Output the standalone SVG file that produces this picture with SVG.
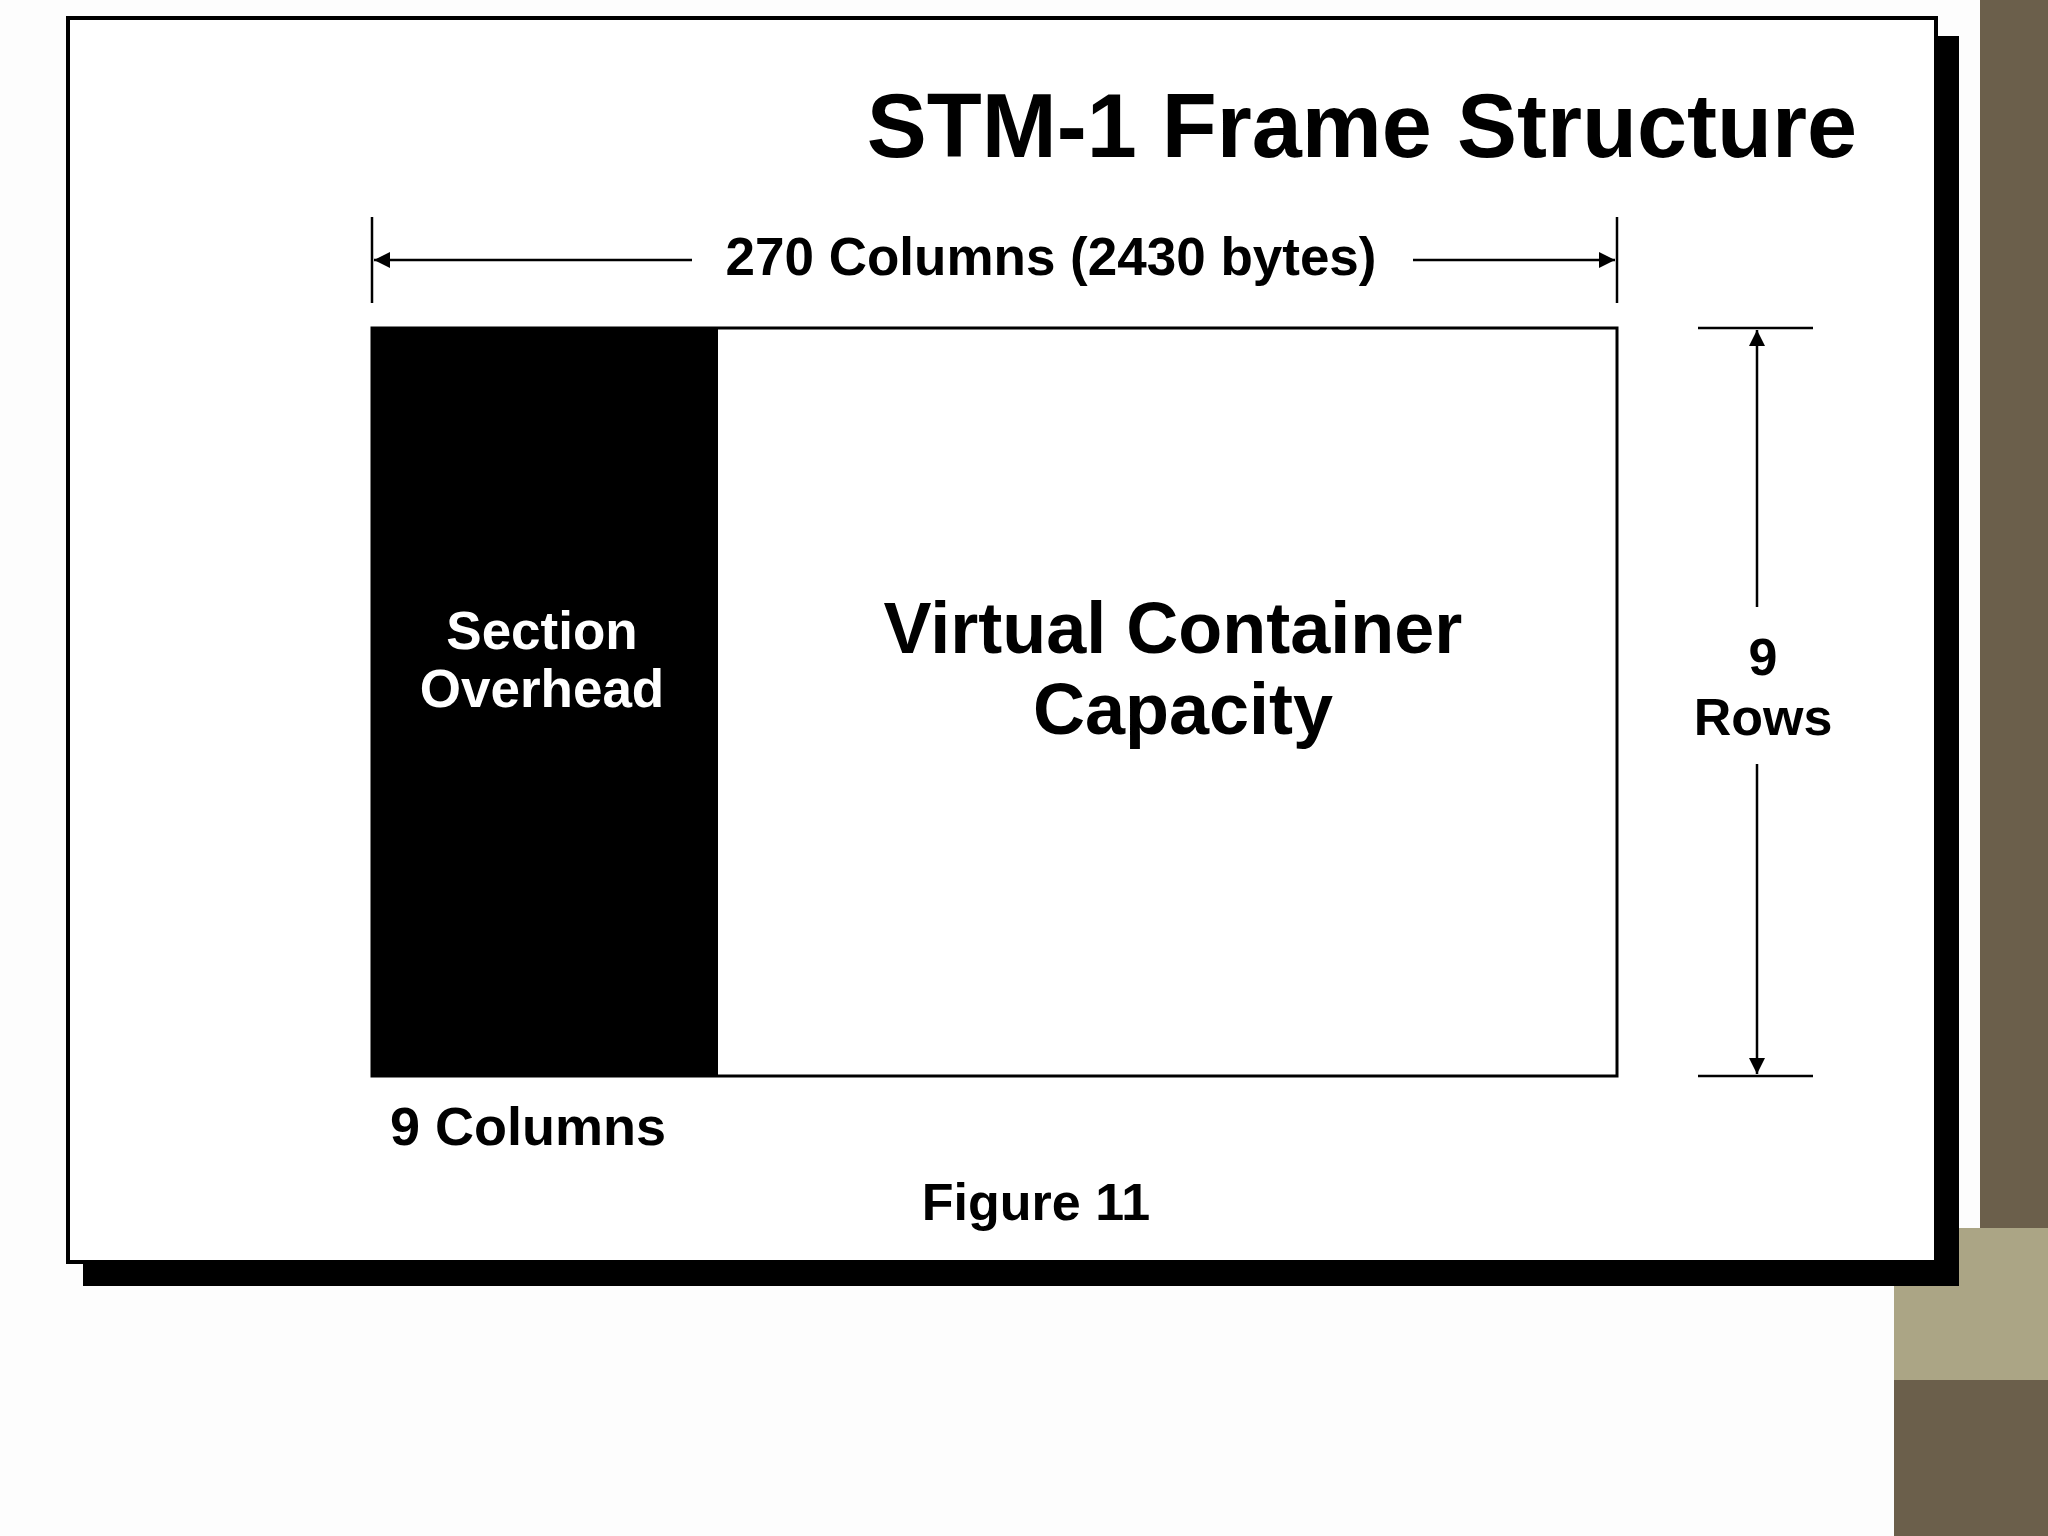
<svg xmlns="http://www.w3.org/2000/svg" width="2048" height="1536" viewBox="0 0 2048 1536">
<defs>
<style>
text{font-family:"Liberation Sans",Arial,sans-serif;font-weight:bold;fill:#000}
.l{stroke:#000;stroke-width:2.5;fill:none}
</style>
<marker id="b" viewBox="0 0 10 10" refX="10" refY="5" markerWidth="22" markerHeight="16" markerUnits="userSpaceOnUse" orient="auto-start-reverse"><path d="M0,0 L10,5 L0,10 z" fill="#000"/></marker>
</defs>
<rect width="2048" height="1536" fill="#fdfdfd"/>
<rect x="1980" y="0" width="68" height="1228" fill="#6b5f4b"/>
<rect x="1894" y="1228" width="154" height="152" fill="#aba585"/>
<rect x="1894" y="1380" width="154" height="156" fill="#6b5f4b"/>
<rect x="83" y="36" width="1876" height="1250" fill="#000"/>
<rect id="frame" x="68" y="18" width="1868" height="1244" fill="#fff" stroke="#000" stroke-width="4"/>
<text x="1857" y="157" font-size="90" text-anchor="end">STM-1 Frame Structure</text>
<g id="connectors">
<line class="l" x1="372" y1="217" x2="372" y2="303"/>
<line class="l" x1="1617" y1="217" x2="1617" y2="303"/>
<line class="l" x1="692" y1="260" x2="374" y2="260" marker-end="url(#b)"/>
<line class="l" x1="1413" y1="260" x2="1615" y2="260" marker-end="url(#b)"/>
<line class="l" x1="1698" y1="328" x2="1813" y2="328"/>
<line class="l" x1="1698" y1="1076" x2="1813" y2="1076"/>
<line class="l" x1="1757" y1="607" x2="1757" y2="330" marker-end="url(#b)"/>
<line class="l" x1="1757" y1="764" x2="1757" y2="1074" marker-end="url(#b)"/>
</g>
<text x="1051" y="275" font-size="53" text-anchor="middle">270 Columns (2430 bytes)</text>
<g id="vc">
<rect x="372" y="328" width="1245" height="748" fill="#fff" stroke="#000" stroke-width="3"/>
<text x="1173" y="653" font-size="72" text-anchor="middle">Virtual Container</text>
<text x="1183" y="734" font-size="72" text-anchor="middle">Capacity</text>
</g>
<g id="soh">
<rect x="372" y="328" width="346" height="748" fill="#000"/>
<text x="542" y="649" font-size="53" text-anchor="middle" style="fill:#fff">Section</text>
<text x="542" y="707" font-size="53" text-anchor="middle" style="fill:#fff">Overhead</text>
</g>
<text x="1763" y="675" font-size="52" text-anchor="middle">9</text>
<text x="1763" y="735" font-size="52" text-anchor="middle">Rows</text>
<text x="390" y="1145" font-size="54">9 Columns</text>
<text x="1036" y="1220" font-size="52" text-anchor="middle">Figure 11</text>
</svg>
